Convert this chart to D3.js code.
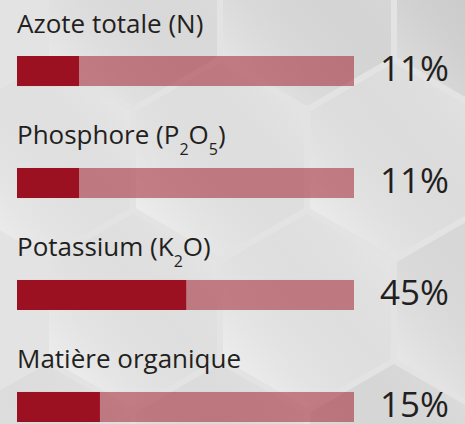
<!DOCTYPE html>
<html>
<head>
<meta charset="utf-8">
<script src="https://cdn.jsdelivr.net/npm/d3@7"></script>
<style>
  body { margin: 0; background: #e6e6e6; }
  svg { display: block; }
  .label { font-family: "Open Sans", sans-serif; fill: #231f20; }
</style>
</head>
<body>
<div id="result"></div>
<script>
// Data
var nutrients = ["Azote totale (N)", "Phosphore (P_2O_5)", "Potassium (K_2O)", "Matière organique"];
var values = [11, 11, 45, 15];                 // printed percentage
var filled = [18.4, 18.4, 50.2, 24.6];         // dark part of each bar, % of the bar length

var width = 465;
var height = 424;

var svg = d3.select("#result")
  .append("svg")
  .attr("width", width)
  .attr("height", height);

// Background honeycomb (decoration only)
var bg = svg.append("g").attr("class", "background");
bg.append("rect")
  .attr("width", width)
  .attr("height", height)
  .style("fill", "#e3e3e3");

var r = 97, dx = 174, dy = dx * Math.sqrt(3) / 2;
var shades = {
  "0,0": "#ebebeb", "1,0": "#e6e6e6", "2,0": "#dadada", "3,0": "#e6e6e6",
  "0,1": "#f3f3f3", "1,1": "#f1f1f1", "2,1": "#efefef", "3,1": "#eeeeee",
  "0,2": "#f2f2f2", "1,2": "#f2f2f2", "2,2": "#e9e9e9", "3,2": "#e4e4e4",
  "0,3": "#efefef", "1,3": "#eeeeee", "2,3": "#e8e8e8", "3,3": "#e3e3e3"
};
var hexPoints = function(cx, cy) {
  return d3.range(6).map(function(i) {
    var a = Math.PI / 3 * i - Math.PI / 2;
    return [cx + r * Math.cos(a), cy + r * Math.sin(a)];
  });
};
var defs = svg.append("defs");
var grad = defs.append("linearGradient")
  .attr("id", "hexShade")
  .attr("x1", 0).attr("y1", 1).attr("x2", 1).attr("y2", 0);
grad.append("stop").attr("offset", "0%").style("stop-color", "#fff").style("stop-opacity", 0.3);
grad.append("stop").attr("offset", "100%").style("stop-color", "#000").style("stop-opacity", 0.03);

var cells = [];
for (var row = 0; row < 4; row++) {
  for (var col = 0; col < 4; col++) {
    var cy = 9 + row * dy;
    var cx = (row % 2 === 0 ? 133 : 46) + col * dx;
    cells.push({ cx: cx, cy: cy, key: col + "," + row });
  }
}
bg.selectAll("path.hex")
    .data(cells)
  .enter()
    .append("path")
    .attr("class", "hex")
    .attr("d", function(d) { return "M" + hexPoints(d.cx, d.cy).join("L") + "Z"; })
    .style("fill", function(d) { return shades[d.key] || "#ededed"; });
bg.selectAll("path.gloss")
    .data(cells)
  .enter()
    .append("path")
    .attr("class", "gloss")
    .attr("d", function(d) { return "M" + hexPoints(d.cx, d.cy).join("L") + "Z"; })
    .style("fill", "url(#hexShade)");

// Scales
var x = d3.scaleLinear()
  .domain([0, 100])
  .range([17, 354]);

var y = d3.scaleBand()
  .domain(nutrients)
  .range([56, 422])
  .paddingInner(0.732)
  .paddingOuter(0);

var rows = svg.selectAll("g.row")
    .data(nutrients)
  .enter()
    .append("g")
    .attr("class", "row")
    .attr("transform", function(d) { return "translate(0," + y(d) + ")"; });

// full track
rows.append("rect")
  .attr("x", x(0))
  .attr("width", x(100) - x(0))
  .attr("height", y.bandwidth())
  .style("fill", "#9b1122")
  .style("fill-opacity", 0.5);

// dark part
rows.append("rect")
  .attr("x", x(0))
  .attr("width", function(d, i) { return x(filled[i]) - x(0); })
  .attr("height", y.bandwidth())
  .style("fill", "#9b1122");

// name above the bar, with chemical subscripts
rows.append("text")
  .attr("class", "label")
  .attr("x", x(0))
  .attr("y", -23.5)
  .style("font-size", "26px")
  .each(function(d) {
    var t = d3.select(this);
    var parts = d.split(/_(\d)/);
    var sub = false;
    parts.forEach(function(p, k) {
      if (p === "") return;
      var span = t.append("tspan").text(p);
      if (k % 2 === 1) {
        span.attr("dy", 11).style("font-size", "16px");
        sub = true;
      } else if (sub) {
        span.attr("dy", -11);
        sub = false;
      }
    });
  });

// value on the right
rows.append("text")
  .attr("class", "label")
  .attr("x", 449)
  .attr("y", y.bandwidth() / 2 + 10)
  .attr("text-anchor", "end")
  .style("font-size", "35px")
  .text(function(d, i) { return values[i] + "%"; });
</script>
</body>
</html>
